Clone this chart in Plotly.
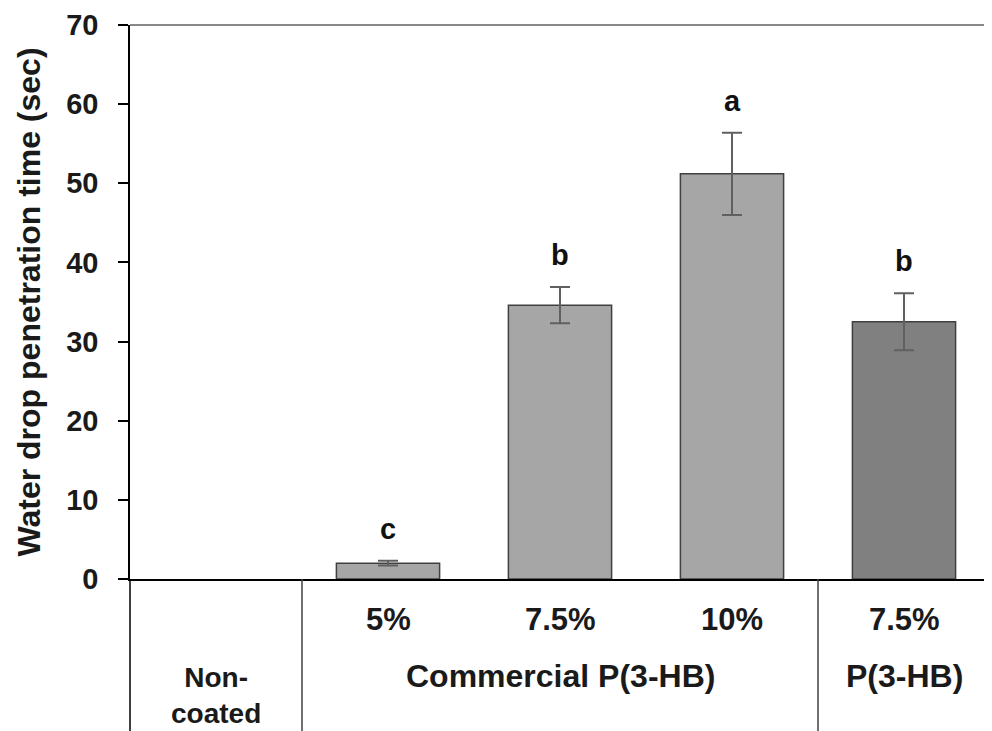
import plotly.graph_objects as go

categories = ["Non-coated", "Commercial 5%", "Commercial 7.5%", "Commercial 10%", "P(3-HB) 7.5%"]
values = [0.0, 2.0, 34.6, 51.2, 32.5]
errors = [0.0, 0.3, 2.3, 5.2, 3.6]
letters = ["", "c", "b", "a", "b"]
row1_labels = ["", "5%", "7.5%", "10%", "7.5%"]
group_labels = [("Commercial P(3-HB)", 1, 3), ("P(3-HB)", 4, 4)]
noncoated_label = "Non-<br>coated"
dark_index = 4
y_ticks = [0, 10, 20, 30, 40, 50, 60, 70]

light = "#a6a6a6"
dark = "#808080"
xs = list(range(len(categories)))

fig = go.Figure()
light_idx = [i for i in xs if i != dark_index and values[i] > 0]
fig.add_trace(go.Bar(
    x=[xs[i] for i in light_idx], y=[values[i] for i in light_idx],
    marker=dict(color=light, line=dict(color="#404040", width=1.5)),
    error_y=dict(type="data", array=[errors[i] for i in light_idx], color="#606060", thickness=2, width=10),
    width=0.6, showlegend=False))
fig.add_trace(go.Bar(
    x=[dark_index], y=[values[dark_index]],
    marker=dict(color=dark, line=dict(color="#404040", width=1.5)),
    error_y=dict(type="data", array=[errors[dark_index]], color="#606060", thickness=2, width=10),
    width=0.6, showlegend=False))

font = "Liberation Sans, Arial, sans-serif"
PH = 554.0  # plot height in px (for placing table text)
def py(px_below):
    return -px_below / PH

ann = []
for i in xs:
    if letters[i]:
        ann.append(dict(x=i, y=values[i] + errors[i], xref="x", yref="y", text=f"<b>{letters[i]}</b>",
                        showarrow=False, yanchor="middle", yshift=32, font=dict(size=29, color="#111", family=font)))
    if row1_labels[i]:
        ann.append(dict(x=i, y=py(40), xref="x", yref="paper", text=f"<b>{row1_labels[i]}</b>",
                        showarrow=False, yanchor="middle", font=dict(size=31, color="#1a1a1a", family=font)))
for text, a, b in group_labels:
    ann.append(dict(x=(a + b) / 2, y=py(97), xref="x", yref="paper", text=f"<b>{text}</b>",
                    showarrow=False, yanchor="middle", font=dict(size=32, color="#1a1a1a", family=font)))
ann.append(dict(x=0, y=py(117), xref="x", yref="paper", text=f"<b>{noncoated_label}</b>",
                showarrow=False, yanchor="middle", font=dict(size=28, color="#1a1a1a", family=font)))

bottom = -152 / PH
shapes = [
    dict(type="line", xref="paper", yref="paper", x0=0, x1=1, y0=1, y1=1, line=dict(color="#888888", width=2)),
    dict(type="line", xref="paper", yref="paper", x0=1, x1=1, y0=1, y1=bottom, line=dict(color="#404040", width=2.5)),
    dict(type="line", xref="paper", yref="paper", x0=0, x1=0, y0=0, y1=bottom, line=dict(color="black", width=1.5)),
]
for sep in [0.5, group_labels[0][2] + 0.5]:
    shapes.append(dict(type="line", xref="x", yref="paper", x0=sep, x1=sep, y0=0, y1=bottom,
                       line=dict(color="#404040", width=1.5)))

fig.update_layout(
    width=984, height=723,
    margin=dict(l=122, r=2, t=17, b=152),
    paper_bgcolor="white", plot_bgcolor="white",
    barmode="overlay",
    xaxis=dict(range=[-0.5, 4.5], showticklabels=False, ticks="", showline=True, linecolor="black",
               linewidth=1.5, showgrid=False, zeroline=False, fixedrange=True),
    yaxis=dict(range=[0, 70], tickvals=y_ticks, ticktext=[f"<b>{v}</b>" for v in y_ticks],
               ticks="outside", ticklen=10, tickcolor="black", tickwidth=1.5, ticklabelstandoff=14,
               showline=True, linecolor="black", linewidth=1.5, showgrid=False, zeroline=False,
               tickfont=dict(size=29, color="#1a1a1a", family=font),
               title=dict(text="<b>Water drop penetration time (sec)</b>", standoff=16,
                          font=dict(size=32, color="#1a1a1a", family=font))),
    annotations=ann, shapes=shapes,
)
fig.write_html("out.html")
